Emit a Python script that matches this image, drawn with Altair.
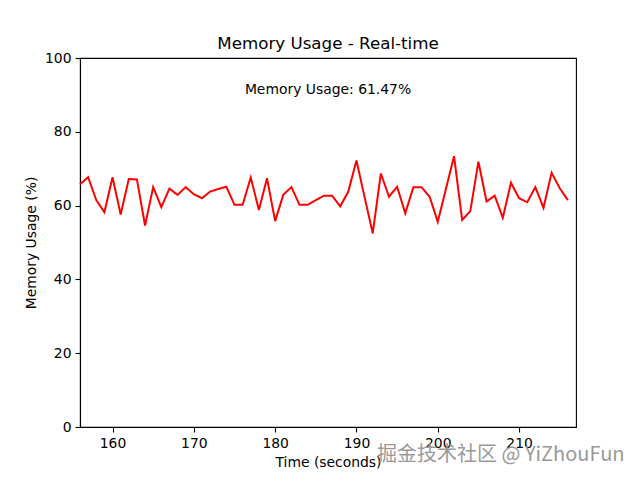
import altair as alt
import pandas as pd

times = list(range(156, 217))
usage = [65.8, 67.7, 61.5, 58.2, 67.7, 57.6, 67.2, 67.1, 54.6, 65.0,
         59.6, 64.6, 62.9, 65.0, 63.1, 62.0, 63.8, 64.5, 65.1, 60.2,
         60.2, 67.6, 58.8, 67.4, 55.8, 62.9, 65.0, 60.2, 60.2, 61.5,
         62.7, 62.7, 59.8, 63.8, 72.2, 62.3, 52.5, 68.7, 62.4, 65.1,
         57.9, 65.0, 65.0, 62.4, 55.6, 64.5, 73.4, 56.1, 58.5, 71.9,
         61.1, 62.7, 56.7, 66.2, 62.0, 60.9, 65.0, 59.4, 68.9, 64.7,
         61.47]
x_domain = [156, 217]
y_domain = [0, 100]
x_ticks = [160, 170, 180, 190, 200, 210]
y_ticks = [0, 20, 40, 60, 80, 100]
chart_title = "Memory Usage - Real-time"
current_label = "Memory Usage: 61.47%"
watermark = "掘金技术社区 @ YiZhouFun"

font = "DejaVu Sans"

df = pd.DataFrame({"t": times, "u": usage})

line = alt.Chart(df).mark_line(color="#ff0000", strokeWidth=2).encode(
    x=alt.X("t:Q", scale=alt.Scale(domain=x_domain, nice=False, zero=False),
            axis=alt.Axis(values=x_ticks, title="Time (seconds)", grid=False)),
    y=alt.Y("u:Q", scale=alt.Scale(domain=y_domain, nice=False),
            axis=alt.Axis(values=y_ticks, title="Memory Usage (%)", grid=False)),
)

ann_df = pd.DataFrame({"label": [current_label]})
ann = alt.Chart(ann_df).mark_text(font=font, fontSize=13.9, color="black",
                                  align="center", baseline="middle").encode(
    x=alt.value(248), y=alt.value(32), text="label:N")

wm_df = pd.DataFrame({"label": [watermark]})
wm = alt.Chart(wm_df).mark_text(font="Noto Sans CJK SC", fontSize=20, color="#999999",
                                align="left", baseline="middle").encode(
    x=alt.value(297), y=alt.value(397), text="label:N")

chart = alt.layer(line, ann, wm).properties(
    width=496, height=369,
    title=alt.Title(chart_title, font=font, fontSize=16.7, fontWeight="normal",
                    color="black", offset=-2),
    padding={"left": 72, "top": 50, "right": 48, "bottom": 45},
    autosize=alt.AutoSizeParams(type="none"),
).configure_axis(
    labelFont=font, titleFont=font, labelFontSize=13.9, titleFontSize=13.9,
    labelColor="black", titleColor="black", domainColor="black", tickColor="black",
    tickSize=5, labelPadding=4, titlePadding=6, domainWidth=1.1, tickWidth=1.1,
    titleFontWeight="normal",
).configure_view(stroke="black", strokeWidth=1.1)

chart.save("out.html", embed_options={"renderer": "svg", "actions": False})
